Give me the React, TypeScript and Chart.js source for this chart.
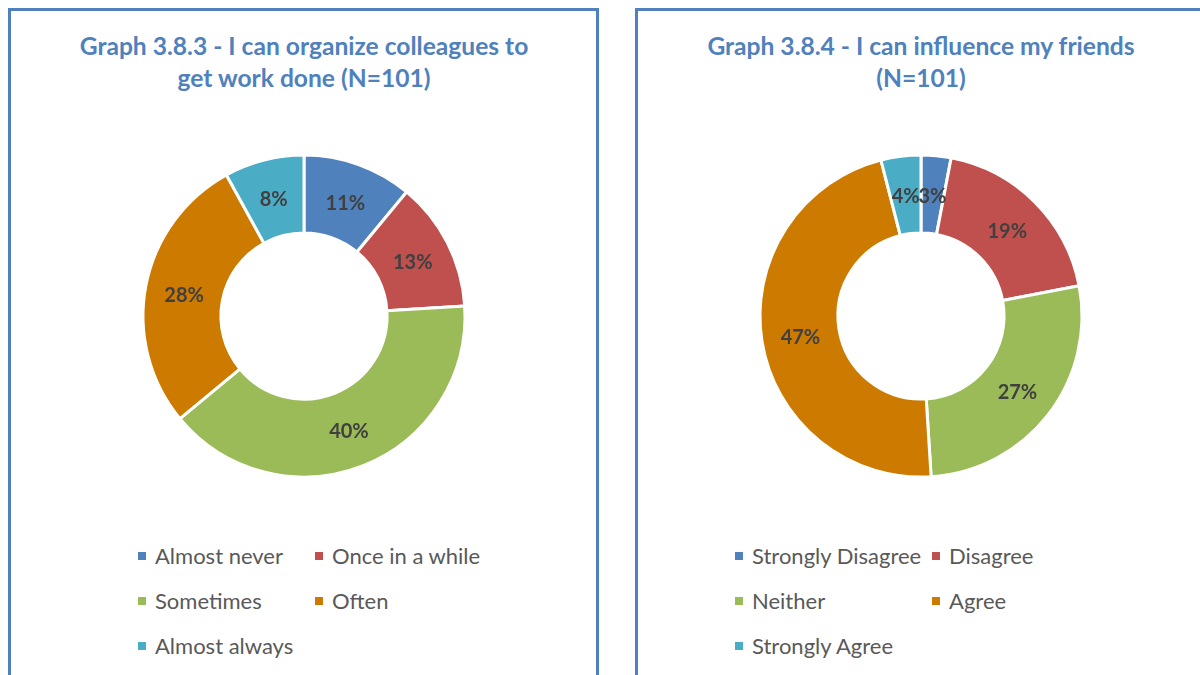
import React, { useEffect, useRef } from "react";
import { Chart, registerables } from "chart.js";

Chart.register(...registerables);

const leftTitle = ["Graph 3.8.3 - I can organize colleagues to", "get work done (N=101)"];
const leftLabels = ["Almost never", "Once in a while", "Sometimes", "Often", "Almost always"];
const leftValues = [11, 13, 40, 28, 8];

const rightTitle = ["Graph 3.8.4 - I can influence my friends", "(N=101)"];
const rightLabels = ["Strongly Disagree", "Disagree", "Neither", "Agree", "Strongly Agree"];
const rightValues = [3, 19, 27, 47, 4];

const sliceColors = ["#4F81BD", "#C0504D", "#9BBB59", "#CC7A00", "#4BACC6"];

const FONT = "Lato, 'Open Sans', sans-serif";
const BORDER = "#4F81BD";

const labelPlugin = {
  id: "sliceLabels",
  afterDatasetsDraw(chart: any) {
    const ctx = chart.ctx;
    const meta = chart.getDatasetMeta(0);
    const data = chart.data.datasets[0].data as number[];
    ctx.save();
    ctx.font = `bold 20px ${FONT}`;
    ctx.fillStyle = "#404040";
    ctx.textAlign = "center";
    ctx.textBaseline = "middle";
    meta.data.forEach((arc: any, i: number) => {
      const p = arc.getCenterPoint();
      ctx.fillText(`${Math.round(data[i])}%`, p.x, p.y + 2);
    });
    ctx.restore();
  },
};

function Donut({ labels, values, cx, cy }: { labels: string[]; values: number[]; cx: number; cy: number }) {
  const ref = useRef<HTMLCanvasElement>(null);
  useEffect(() => {
    if (!ref.current) return;
    const chart = new Chart(ref.current, {
      type: "doughnut",
      data: {
        labels,
        datasets: [
          {
            data: values,
            backgroundColor: sliceColors,
            borderColor: "#FFFFFF",
            borderWidth: 3,
          },
        ],
      },
      options: {
        responsive: false,
        animation: false,
        radius: 161,
        cutout: "51.6%",
        layout: { padding: 0 },
        plugins: { legend: { display: false }, tooltip: { enabled: false } },
      } as any,
      plugins: [labelPlugin],
    });
    return () => chart.destroy();
  }, []);
  const size = 360;
  return (
    <canvas
      ref={ref}
      width={size}
      height={size}
      style={{ position: "absolute", left: cx - size / 2, top: cy - size / 2, width: size, height: size }}
    />
  );
}

function Title({ lines, cx }: { lines: string[]; cx: number }) {
  return (
    <>
      {lines.map((t, i) => (
        <div
          key={i}
          style={{
            position: "absolute",
            left: cx - 300,
            width: 600,
            top: 30 + i * 32,
            height: 32,
            lineHeight: "32px",
            textAlign: "center",
            fontFamily: FONT,
            fontWeight: 700,
            fontSize: 24.6,
            color: "#4F81BD",
            whiteSpace: "nowrap",
          }}
        >
          {t}
        </div>
      ))}
    </>
  );
}

function Legend({ labels, x1, x2 }: { labels: string[]; x1: number; x2: number }) {
  const rows = [556, 601, 646];
  return (
    <>
      {labels.map((l, i) => {
        const x = i % 2 === 0 ? x1 : x2;
        const y = rows[Math.floor(i / 2)];
        return (
          <div key={i} style={{ position: "absolute", left: x, top: y - 15, height: 30, display: "flex", alignItems: "center" }}>
            <div style={{ width: 8, height: 8, background: sliceColors[i], marginRight: 9 }} />
            <div style={{ fontFamily: FONT, fontSize: 22, color: "#595959", whiteSpace: "nowrap", lineHeight: "30px" }}>{l}</div>
          </div>
        );
      })}
    </>
  );
}

export default function App() {
  return (
    <div style={{ position: "fixed", left: 0, top: 0, width: 1200, height: 675, overflow: "hidden", background: "#FFFFFF" }}>
      <div style={{ position: "absolute", left: 8, top: 8, width: 591, height: 720, border: `3px solid ${BORDER}`, boxSizing: "border-box" }} />
      <div style={{ position: "absolute", left: 635, top: 8, width: 580, height: 720, border: `3px solid ${BORDER}`, boxSizing: "border-box" }} />
      <Title lines={leftTitle} cx={304} />
      <Title lines={rightTitle} cx={921} />
      <Donut labels={leftLabels} values={leftValues} cx={304} cy={316} />
      <Donut labels={rightLabels} values={rightValues} cx={921} cy={316} />
      <Legend labels={leftLabels} x1={138} x2={315} />
      <Legend labels={rightLabels} x1={735} x2={932} />
    </div>
  );
}
